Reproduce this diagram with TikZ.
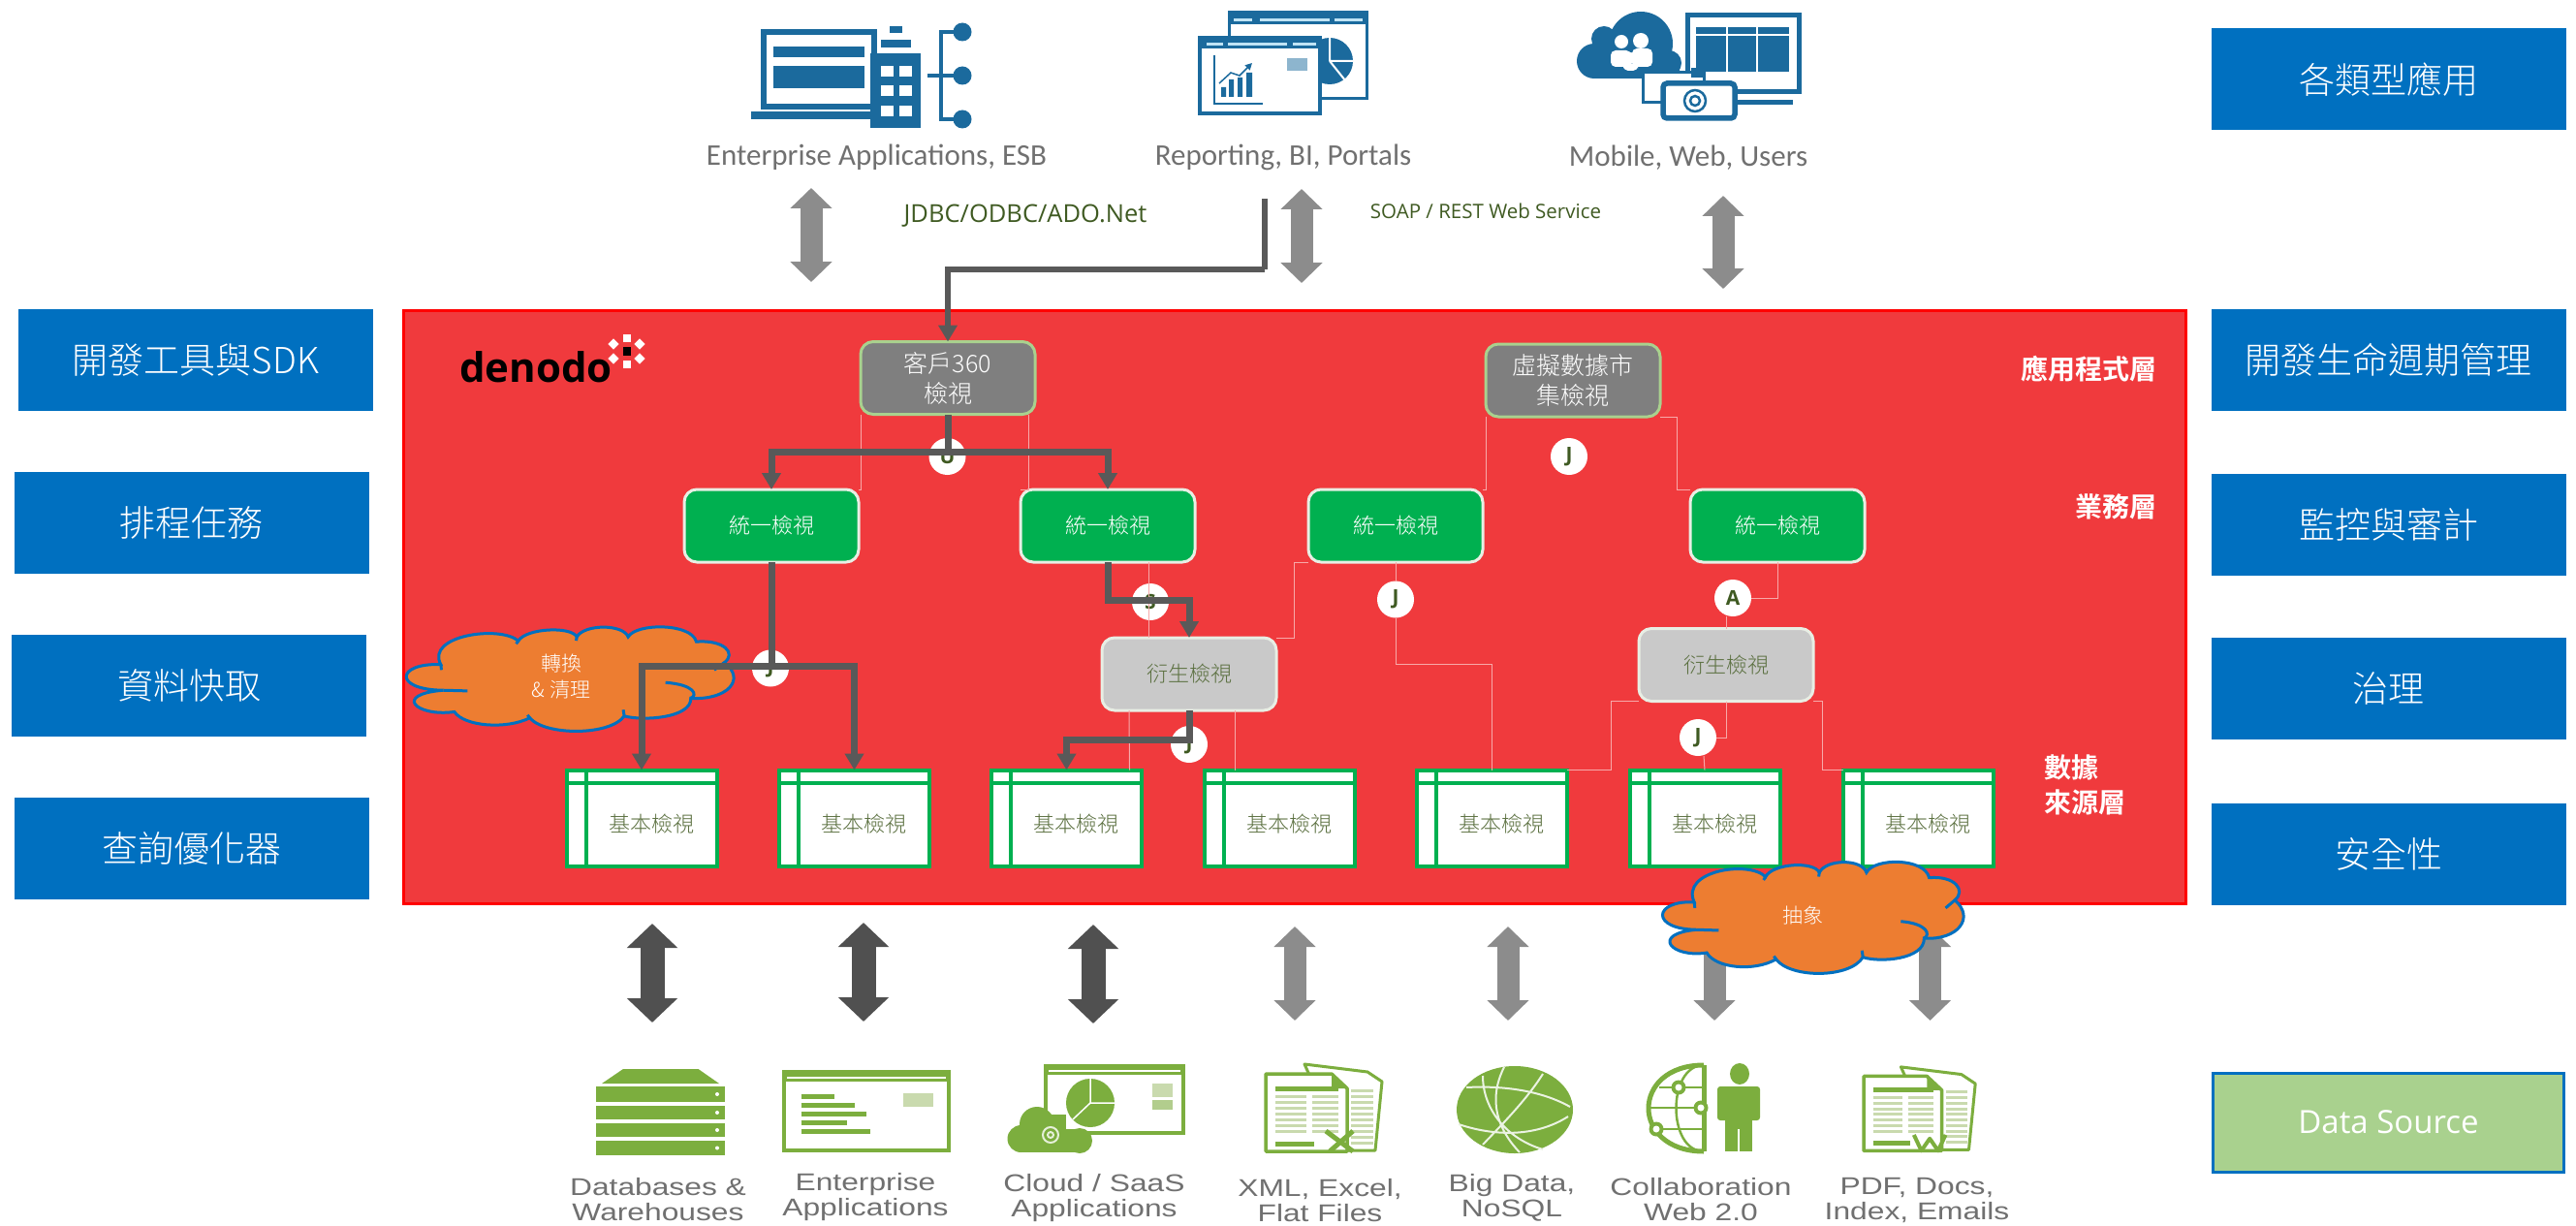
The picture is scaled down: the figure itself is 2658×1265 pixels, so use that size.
\documentclass[tikz,border=0pt]{standalone}
\usepackage{fontspec}
\setmainfont{Liberation Sans}
\newfontfamily\cjk[UprightFont={* Light},BoldFont={* Bold}]{Noto Sans CJK TC}
\newfontfamily\opensans{Open Sans}
\newfontfamily\carlito{Carlito}
\usetikzlibrary{arrows.meta,calc}
\definecolor{panelfill}{HTML}{F03A3D}
\definecolor{sideblue}{HTML}{0070C0}
\definecolor{vgreen}{HTML}{00B050}
\definecolor{vgray}{HTML}{7F7F7F}
\definecolor{vlgray}{HTML}{C9C9C9}
\definecolor{softgreen}{HTML}{A9D18E}
\definecolor{softwhite}{HTML}{E8EEE4}
\definecolor{olive}{HTML}{5B7040}
\definecolor{darkolive}{HTML}{3F5A22}
\definecolor{conn}{HTML}{595959}
\definecolor{thinpink}{HTML}{F7A9A9}
\definecolor{cloudo}{HTML}{ED7D31}
\definecolor{arrgray}{HTML}{8C8C8C}
\definecolor{arrdark}{HTML}{505050}
\definecolor{icb}{HTML}{1B6A9D}
\definecolor{icl}{HTML}{BFE3F5}
\definecolor{ig}{HTML}{7CAE3E}
\definecolor{igp}{HTML}{C9DAAE}
\definecolor{labgray}{HTML}{707070}
\tikzset{
  sidebox/.style={rectangle,fill=sideblue,draw=none,minimum width=366pt,minimum height=105pt,inner sep=0pt,text=white,font=\cjk\fontsize{37}{44}\selectfont},
  viewbox/.style={rectangle,rounded corners=13pt,minimum width=180pt,minimum height=75pt,inner sep=0pt,outer sep=0pt,line width=3pt,align=center},
  martbox/.style={viewbox,fill=vgray,draw=softgreen,text=white,font=\cjk\fontsize{25}{31}\selectfont},
  unibox/.style={viewbox,fill=vgreen,draw=softwhite,text=white,font=\cjk\fontsize{22}{28}\selectfont},
  derbox/.style={viewbox,fill=vlgray,draw=softwhite,text=olive,font=\cjk\fontsize{22}{28}\selectfont},
  basebox/.style={rectangle,fill=white,draw=vgreen,line width=4pt,minimum width=155pt,minimum height=99pt,inner sep=0pt,outer sep=0pt,
    path picture={\draw[vgreen,line width=4pt]
      ([yshift=-13pt]path picture bounding box.north west) -- ([yshift=-13pt]path picture bounding box.north east)
      ([xshift=20pt]path picture bounding box.north west) -- ([xshift=20pt]path picture bounding box.south west);}},
  baselab/.style={inner sep=0pt,text=olive,font=\cjk\fontsize{22}{28}\selectfont},
  joinc/.style={circle,fill=white,draw=none,minimum size=38pt,inner sep=0pt,outer sep=0pt,text=darkolive,font=\opensans\bfseries\fontsize{21}{24}\selectfont},
  thinc/.style={draw=thinpink,line width=1pt},
  thickc/.style={draw=conn,line width=7pt,-{Triangle[length=17pt,width=19pt]}},
  thickp/.style={draw=conn,line width=7pt},
  blockg/.style={draw=arrgray,line width=23pt,{Triangle[length=21pt,width=42pt]}-{Triangle[length=21pt,width=42pt]}},
  blockd/.style={draw=arrdark,line width=25pt,{Triangle[length=25pt,width=51pt]}-{Triangle[length=25pt,width=51pt]}},
  layerlab/.style={inner sep=0pt,text=white,align=left,font=\cjk\bfseries\fontsize{28}{36}\selectfont},
  cloudlab/.style={inner sep=0pt,text=white,align=center,font=\cjk\fontsize{21}{27}\selectfont},
  toplab/.style={inner sep=0pt,text=labgray,font=\carlito\fontsize{31}{34}\selectfont},
  botlab/.style={inner sep=0pt,text=labgray,font=\fontsize{25}{25}\selectfont},
  protolab/.style={inner sep=0pt,text=darkolive},
}
\newcommand{\widelab}[1]{\scalebox{1.27}[1]{#1}}
\newcommand{\ppcloud}[4]{%
  \begin{scope}[shift={(#1,#2)},xscale=#3,yscale=#4]
  \draw[fill=cloudo,draw=sideblue,line width=3pt]
   (.098,.358) .. controls (.05,.08) and (.28,-.02) .. (.337,.132)
   .. controls (.36,.01) and (.50,-.01) .. (.517,.094)
   .. controls (.54,-.03) and (.66,-.03) .. (.675,.094)
   .. controls (.70,-.04) and (.87,-.04) .. (.885,.14)
   .. controls (.97,.12) and (1.01,.25) .. (.971,.34)
   .. controls (1.04,.5) and (.98,.70) .. (.868,.68)
   .. controls (.87,.87) and (.72,.90) .. (.663,.85)
   .. controls (.62,1.04) and (.42,1.04) .. (.372,.868)
   .. controls (.30,.98) and (.17,.95) .. (.14,.81)
   .. controls (.02,.86) and (-.05,.64) .. (.106,.604)
   .. controls (-.05,.60) and (-.04,.34) .. (.098,.358) -- cycle;
  \draw[draw=sideblue,line width=3pt] (.79,.53) .. controls (.88,.55) and (.89,.65) .. (.868,.68)
   (.971,.34) -- (.94,.41) (.098,.358) -- (.10,.41) (.106,.604) -- (.18,.61)
   (.663,.85) -- (.66,.79) (.372,.868) -- (.365,.84) (.517,.094) -- (.515,.13) (.337,.132) -- (.33,.16);
  \end{scope}}
\newcommand{\docicon}[4]{% x y scale mark(0 X,1 W)
  \begin{scope}[shift={(#1,#2)},scale=#3]
  \draw[fill=white,draw=ig,line width=3pt,line join=round] (40,3) -- (105,11) -- (120,21) -- (113,92) -- (80,92) -- cycle;
  \foreach \yy in {30,36,...,84}{\draw[igp,line width=3pt] (88,\yy) -- (111,\yy);}
  \draw[fill=white,draw=ig,line width=3.5pt,line join=round] (0,13) -- (68,13) -- (84,28) -- (84,93) -- (0,93) -- cycle;
  \fill[ig] (68,13) -- (84,28) -- (68,28) -- cycle;
  \draw[ig,line width=5pt] (10,28) -- (75,28);
  \foreach \yy in {36,42,...,72}{\draw[igp,line width=3pt] (10,\yy) -- (42,\yy) (48,\yy) -- (75,\yy);}
  \draw[ig,line width=5pt] (10,85) -- (50,85);
  \ifnum#4=0
   \draw[ig,line width=5pt] (62,72) -- (90,93) (90,72) -- (66,93);
  \else
   \draw[ig,line width=4pt,line join=round] (54,76) -- (62,93) -- (71,80) -- (80,93) -- (88,76);
  \fi
  \end{scope}}
\begin{document}
\begin{tikzpicture}[x=1pt,y=-1pt]
\path[use as bounding box] (0,0) rectangle (2658,1265);
% side boxes
\node[sidebox] (sl1) at (202,371) {開發工具與SDK};
\node[sidebox] (sl2) at (197.5,539) {排程任務};
\node[sidebox] (sl3) at (195,707) {資料快取};
\node[sidebox] (sl4) at (197.5,875.5) {查詢優化器};
\node[sidebox] (sr0) at (2464.5,82) {各類型應用};
\node[sidebox] (sr1) at (2464.5,371) {開發生命週期管理};
\node[sidebox] (sr2) at (2464.5,541) {監控與審計};
\node[sidebox] (sr3) at (2464.5,710.5) {治理};
\node[sidebox] (sr4) at (2464.5,881) {安全性};
\node[sidebox,fill=softgreen,draw=sideblue,line width=3pt,minimum width=362pt,minimum height=102pt,font=\opensans\fontsize{33}{38}\selectfont] (srd) at (2464.5,1158) {Data Source};
% top block arrows
\coordinate (at1) at (837,194); \coordinate (ab1) at (837,291);
\coordinate (at2) at (1343,195); \coordinate (ab2) at (1343,292);
\coordinate (at3) at (1778,202); \coordinate (ab3) at (1778,298);
\draw[blockg] (at1) -- (ab1);
\draw[blockg] (at2) -- (ab2);
\draw[blockg] (at3) -- (ab3);
% bottom block arrows
\coordinate (bt1) at (673,953); \coordinate (bb1) at (673,1055);
\coordinate (bt2) at (891,952); \coordinate (bb2) at (891,1054);
\coordinate (bt3) at (1128,954); \coordinate (bb3) at (1128,1056);
\coordinate (bt4) at (1336,956); \coordinate (bb4) at (1336,1053);
\coordinate (bt5) at (1556,956); \coordinate (bb5) at (1556,1053);
\coordinate (bt6) at (1769,956); \coordinate (bb6) at (1769,1053);
\coordinate (bt7) at (1991.5,956); \coordinate (bb7) at (1991.5,1053);
\draw[blockd] (bt1) -- (bb1);
\draw[blockd] (bt2) -- (bb2);
\draw[blockd] (bt3) -- (bb3);
\draw[blockg] (bt4) -- (bb4);
\draw[blockg] (bt5) -- (bb5);
\draw[blockg] (bt6) -- (bb6);
\draw[blockg] (bt7) -- (bb7);
% panel
\node[rectangle,fill=panelfill,draw=red,line width=3pt,minimum width=1839pt,minimum height=612pt,inner sep=0pt] (panel) at (1335.5,626) {};
% logo
\node[inner sep=0pt,anchor=base west,text=black,font=\opensans\bfseries\fontsize{42}{50}\selectfont] (logo) at (474,394) {denodo};
\fill[black] (643,358) rectangle (651,367);
\fill[white] (643,345) rectangle (651,353);
\fill[white] (643,372) rectangle (651,380);
\foreach \dx/\dy in {633/355,660/355,633/370,660/370}{\fill[white,rotate around={45:(\dx,\dy)}] (\dx-4,\dy-4) rectangle (\dx+4,\dy+4);}
% views
\node[martbox] (c360) at (978,390) {客戶360\\檢視};
\node[martbox] (mart) at (1623,392.5) {虛擬數據市\\集檢視};
\node[unibox] (uni1) at (796,542.5) {統一檢視};
\node[unibox] (uni2) at (1143,542.5) {統一檢視};
\node[unibox] (uni3) at (1440,542.5) {統一檢視};
\node[unibox] (uni4) at (1834,542.5) {統一檢視};
\node[derbox] (der1) at (1227,695.5) {衍生檢視};
\node[derbox] (der2) at (1781,686) {衍生檢視};
\node[basebox] (base1) at (662,844) {};
\node[basebox] (base2) at (881.5,844) {};
\node[basebox] (base3) at (1100.5,844) {};
\node[basebox] (base4) at (1320,844) {};
\node[basebox] (base5) at (1539.5,844) {};
\node[basebox] (base6) at (1759,844) {};
\node[basebox] (base7) at (1979,844) {};
\foreach \b in {1,...,7}{\node[baselab] (bl\b) at ([shift={(10pt,-6pt)}]base\b.center) {基本檢視};}
% join markers
\node[joinc] (ju) at (977.5,471) {U};
\node[joinc] (js) at (1187,621) {S};
\node[joinc] (j1) at (795,689.5) {J};
\node[joinc] (j2) at (1227,768) {J};
\node[joinc] (j3) at (1619,471) {J};
\node[joinc] (j4) at (1440,618.5) {J};
\node[joinc] (ja) at (1788,617) {A};
\node[joinc] (j5) at (1752,761) {J};
% thin connectors
\draw[thinc] (c360.south west) |- (uni1.north east);
\draw[thinc] ([xshift=-7pt]c360.south east) |- (uni2.north west);
\draw[thinc] ([xshift=42pt]uni2.south) -- ([xshift=-42pt]der1.north);
\draw[thinc] ([xshift=-62pt]der1.south) -- ([xshift=65pt]base3.north);
\draw[thinc] ([xshift=47pt]der1.south) -- ([xshift=-46pt]base4.north);
\draw[thinc] (mart.south west) |- (uni3.north east);
\draw[thinc] (mart.south east) -- ++(17,0) |- (uni4.north west);
\draw[thinc] (uni3.south west) -- ++(-15,0) |- (der1.north east);
\draw[thinc] (uni3.south) -- (j4.north);
\draw[thinc] (j4.south) -- ++(0,48) -| (base5.north);
\draw[thinc] (uni4.south) |- (ja.east);
\draw[thinc] (der2.north) -- ([xshift=-7pt]ja.south);
\draw[thinc] (der2.south) |- (j5.east);
\draw[thinc] ([xshift=6pt]j5.south) -- (base6.north);
\draw[thinc] (der2.south west) -- ++(-29,0) |- (base5.north east);
\draw[thinc] (der2.south east) -- ++(9,0) |- (base7.north west);
% cloud 1
\ppcloud{422}{647}{335}{108}
\node[cloudlab] (cl1) at (579,698.5) {轉換\\\& 清理};
% protocol labels
\node[protolab,font=\opensans\fontsize{25.5}{28}\selectfont] (jdbc) at (1058,223) {JDBC/ODBC/ADO.Net};
\node[protolab,font=\opensans\fontsize{20.5}{24}\selectfont] (soap) at (1533,218) {SOAP / REST Web Service};
% thick connectors
\coordinate (rbi) at (1305,205);
\coordinate (rbend) at (1305,278);
\draw[thickp,line width=6pt] (rbi) -- (rbend);
\draw[thickc,line width=6pt] (rbend) -| (c360.north);
\coordinate (ub) at (978,466);
\draw[thickp] (c360.south) -- (ub);
\draw[thickc] (ub) -| (uni1.north);
\draw[thickc] (ub) -| (uni2.north);
\coordinate (jb) at (796,687);
\draw[thickp] (uni1.south) -- (jb);
\draw[thickc] (jb) -| (base1.north);
\draw[thickc] (jb) -| (base2.north);
\draw[thickc] (uni2.south) -- ++(0,39) -| (der1.north);
\draw[thickc] (der1.south) -- ++(0,30) -| (base3.north);
% layer labels
\node[layerlab,anchor=west] (ll1) at (2085,381) {應用程式層};
\node[layerlab,anchor=west] (ll2) at (2141,523) {業務層};
\node[layerlab,anchor=north west] (ll3) at (2109,778) {數據\\來源層};
% top labels
\node[toplab] (tl1) at (904.5,162) {Enterprise Applications, ESB};
\node[toplab] (tl2) at (1324,162) {Reporting, BI, Portals};
\node[toplab] (tl3) at (1742,163) {Mobile, Web, Users};
% icon: enterprise
\draw[icb,line width=6pt,fill=white] (788,33) rectangle (902,110);
\fill[icb] (798,48) rectangle (892,59);
\fill[icb] (798,68) rectangle (892,91);
\fill[icb] (775,115) rectangle (900,123);
\fill[icb] (898,55) rectangle (950,132);
\foreach \xx in {909,928}{\foreach \yy in {68,88,109}{\fill[white] (\xx,\yy) rectangle (\xx+12.5,\yy+11);}}
\fill[icb] (909,41) rectangle (940,49);
\fill[icb] (918,27) rectangle (931,34);
\draw[icb,line width=3.5pt] (993,33) -- (971,33) -- (971,123) -- (993,123);
\draw[icb,line width=3.5pt] (957,78) -- (993,78);
\foreach \yy in {33,78,123}{\fill[icb] (993,\yy) circle[radius=9.5pt];}
% icon: reporting
\draw[icb,line width=3pt,fill=white] (1268,13) rectangle (1410,102);
\fill[icb] (1268,13) rectangle (1410,25);
\draw[icl,line width=3pt] (1273,20.5) -- (1292,20.5) (1300,20.5) -- (1372,20.5) (1377,20.5) -- (1406,20.5);
\fill[icb] (1372,63) circle[radius=24pt];
\draw[white,line width=2pt] (1372,63) -- (1372,38) (1372,63) -- (1396,63) (1372,63) -- (1388,83);
\draw[icb,line width=3.5pt,fill=white] (1238,39) rectangle (1362,117);
\fill[icb] (1238,39) rectangle (1362,50);
\draw[icl,line width=3pt] (1245,45.5) -- (1262,45.5) (1267,45.5) -- (1328,45.5) (1334,45.5) -- (1358,45.5);
\draw[icb,line width=2.5pt] (1253,57) -- (1253,107) -- (1303,107);
\fill[icb] (1260,90) rectangle (1265,100) (1268,82) rectangle (1273,100) (1277,80) rectangle (1282,100) (1286,75) rectangle (1292,100);
\draw[icb,line width=1.5pt,-{Triangle[length=7pt,width=7pt]}] (1258,86) -- (1270,75) -- (1279,78) -- (1292,65);
\fill[icb!50!white] (1328,60) rectangle (1349,73);
% icon: mobile
\fill[icb] (1693,45) circle[radius=33pt] (1655,40) circle[radius=13pt] (1645,63) circle[radius=18pt] (1722,65) circle[radius=13pt];
\fill[icb] (1645,45) rectangle (1700,81) (1645,60) rectangle (1733,81);
\fill[white] (1673,43) circle[radius=7pt] (1693,42) circle[radius=8pt] (1682,60) circle[radius=6pt];
\fill[white,rounded corners=5pt] (1662,52) rectangle (1683,69) (1684,50) rectangle (1705,69) (1675,66) rectangle (1690,73);
\draw[icb,line width=5pt,fill=white] (1741,16) rectangle (1856,95);
\fill[icb] (1750,28) rectangle (1846,74);
\draw[white,line width=2pt] (1750,36.5) -- (1846,36.5) (1782,28) -- (1782,74) (1813,28) -- (1813,74);
\fill[icb] (1793,103) rectangle (1850,108.5);
\draw[icb,line width=3pt,fill=white] (1695,75) rectangle (1758,106);
\fill[icb] (1745,70) rectangle (1760,80);
\draw[icb,line width=5.5pt,fill=white,rounded corners=4pt] (1716,86) rectangle (1790,122);
\draw[icb,line width=2.5pt] (1749,104) circle[radius=11pt] (1749,104) circle[radius=5pt];
\fill[white] (1780,98) rectangle (1785,108);
% icon: database
\fill[ig] (621,1118) -- (643,1103) -- (720.5,1103) -- (742,1118) -- cycle;
\foreach \ya/\yb in {1121/1137,1141/1155,1159/1173,1177/1192}{\fill[ig] (614.5,\ya) rectangle (748,\yb); \fill[white] (740,{(\ya+\yb)/2}) circle[radius=2pt];}
% icon: enterprise app
\draw[ig,line width=4pt,fill=white] (809,1106) rectangle (979,1187);
\fill[ig] (807,1104) rectangle (981,1116);
\draw[white,line width=1.5pt] (812,1112) -- (976,1112);
\draw[ig,line width=5pt] (826.5,1131.6) -- (861,1131.6) (826.5,1140.5) -- (882,1140.5) (826.5,1149.5) -- (894,1149.5) (826.5,1158.5) -- (874,1158.5) (826.5,1167.5) -- (898,1167.5);
\fill[igp] (932,1128) rectangle (962.5,1142);
% icon: cloud app
\draw[ig,line width=4pt,fill=white] (1079,1100) rectangle (1221,1169);
\fill[ig] (1077,1098) rectangle (1223,1109);
\draw[white,line width=1.5pt] (1082,1105) -- (1218,1105);
\fill[ig] (1125,1138) circle[radius=25pt];
\draw[white,line width=1.5pt] (1125,1138) -- (1125,1113) (1125,1138) -- (1150,1138) (1125,1138) -- (1107,1155);
\fill[igp] (1189,1118) rectangle (1210,1132);
\fill[igp!70!ig] (1189,1135) rectangle (1210,1145);
\fill[ig] (1070,1160) circle[radius=18pt] (1053.5,1175) circle[radius=14pt] (1114,1177) circle[radius=13pt];
\fill[ig] (1053,1165) rectangle (1114,1189);
\fill[ig] (1070,1150) rectangle (1100,1175);
\draw[white!80!ig,line width=2pt] (1084,1171) circle[radius=8pt] (1084,1171) circle[radius=3pt];
% docs
\docicon{1306}{1095}{1}{0}
\docicon{1923}{1098}{.96}{1}
% icon: globe
\fill[ig] (1563,1145) ellipse[x radius=60pt,y radius=45pt];
\draw[white!85!ig,line width=2pt]
 (1513,1122) .. controls (1550,1120) and (1590,1125) .. (1620,1142)
 (1530,1110) .. controls (1530,1145) and (1555,1175) .. (1592,1186)
 (1592,1108) .. controls (1575,1135) and (1550,1160) .. (1530,1181)
 (1505,1160) .. controls (1550,1175) and (1590,1170) .. (1618,1152)
 (1552,1101) .. controls (1535,1135) and (1545,1165) .. (1568,1189);
% icon: collaboration
\draw[ig,line width=5pt] (1758,1099) .. controls (1682,1099) and (1682,1188) .. (1758,1188);
\draw[ig,line width=5pt] (1758,1099) -- (1758,1188);
\draw[ig,line width=2.5pt] (1758,1099) .. controls (1720,1099) and (1720,1188) .. (1758,1188);
\draw[ig,line width=2.5pt] (1712,1122) -- (1758,1122) (1702,1143) -- (1758,1143) (1708,1165) -- (1758,1165);
\foreach \xx/\yy in {1732/1122,1755/1143,1709/1165}{\fill[ig] (\xx,\yy) circle[radius=7.5pt]; \fill[white] (\xx,\yy) circle[radius=3.5pt];}
\fill[ig] (1795,1108) ellipse[x radius=10pt,y radius=11pt];
\fill[ig,rounded corners=3pt] (1772,1121) rectangle (1816,1156);
\fill[ig] (1780,1140) rectangle (1808,1188);
\draw[white,line width=1.5pt] (1794,1165) -- (1794,1188);
% bottom labels
\node[botlab,align=center] (d1) at (679,1237.5) {\widelab{Databases \&}\\[1pt]\widelab{Warehouses}};
\node[botlab,align=center] (d2) at (893,1235) {\widelab{Enterprise}\\[1pt]\widelab{Applications}};
\node[botlab,align=center] (d3) at (1129,1236.5) {\widelab{Cloud / SaaS}\\[1pt]\widelab{Applications}};
\node[botlab,align=center] (d4) at (1362,1239) {\widelab{XML, Excel,}\\[1pt]\widelab{Flat Files}};
\node[botlab,align=center] (d5) at (1560,1236) {\widelab{Big Data,}\\[1pt]\widelab{NoSQL}};
\node[botlab,align=center] (d6) at (1755,1238) {\widelab{Collaboration}\\[1pt]\widelab{Web 2.0}};
\node[botlab,align=center] (d7) at (1978,1238) {\widelab{PDF, Docs,}\\[1pt]\widelab{Index, Emails}};
% cloud 2
\ppcloud{1718}{889.5}{308}{115.5}
\node[cloudlab] (cl2) at (1860,944) {抽象};
\end{tikzpicture}
\end{document}
